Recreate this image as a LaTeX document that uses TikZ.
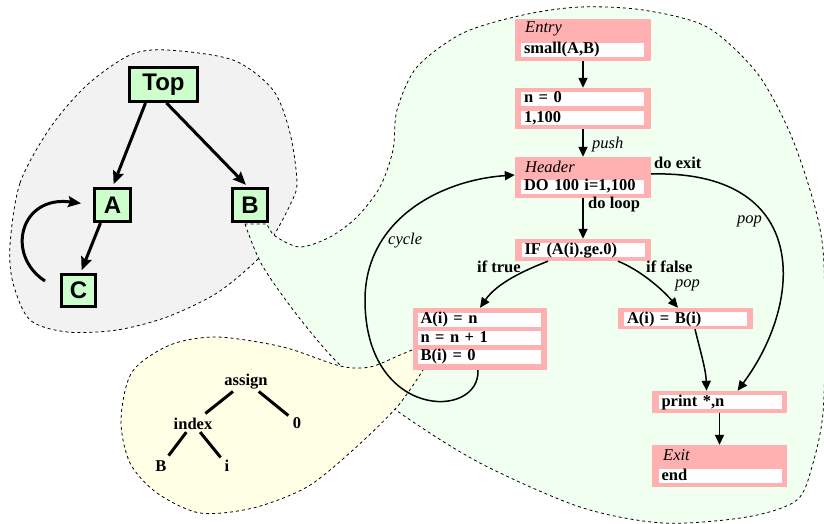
\documentclass[tikz,border=0pt]{standalone}
\usepackage{fontspec}
\setmainfont{Liberation Serif}
\setsansfont{Liberation Sans}
\usetikzlibrary{arrows.meta}

\definecolor{blkpink}{RGB}{255,176,176}
\definecolor{boxgreen}{RGB}{204,255,204}
\definecolor{blobgray}{RGB}{242,242,242}
\definecolor{blobgreen}{RGB}{240,255,240}
\definecolor{blobyellow}{RGB}{255,255,229}

\newcommand{\flowsize}{\fontsize{16.5}{19}\selectfont}
\newcommand{\treesize}{\fontsize{24}{28}\selectfont}

\tikzset{
  blob/.style={draw=black, line width=0.8pt, dash pattern=on 3pt off 3pt},
  blk/.style={fill=blkpink, inner sep=0pt, minimum width=136pt},
  fld/.style={fill=white, inner xsep=3pt, inner ysep=0pt, text width=117pt,
    text height=11pt, text depth=3pt, align=left, font=\bfseries\flowsize},
  ttl/.style={anchor=west, inner sep=0pt, font=\itshape\flowsize},
  blbl/.style={anchor=base west, inner sep=0pt, font=\bfseries\flowsize},
  ilbl/.style={anchor=base west, inner sep=0pt, font=\itshape\flowsize},
  flow/.style={-{Triangle[length=10pt,width=9pt]}, line width=1.5pt},
  tbox/.style={draw=black, line width=3pt, fill=boxgreen, inner sep=0pt,
    font=\sffamily\bfseries\treesize},
  tarr/.style={-{Stealth[length=13pt,width=11pt,inset=2pt]}, line width=3pt},
  ast/.style={anchor=base, inner sep=2pt, font=\bfseries\flowsize},
  aline/.style={line width=3pt, shorten <=1pt, shorten >=3pt}
}

\begin{document}
\begin{tikzpicture}[x=1pt,y=-1pt]
  \useasboundingbox (0,0) rectangle (824,524);

  % blobs
  \filldraw[blob, fill=blobgray] plot[smooth cycle] coordinates {
    (10,245) (20,183) (50,128) (87,85) (130,55) (167,50) (233,60) (273,90)
    (290,133) (297,183) (290,205) (273,237) (257,260) (217,293) (167,317)
    (117,330) (67,332) (30,320) (13,283)};
  \filldraw[blob, fill=blobgreen] plot[smooth] coordinates {
    (245,224) (262,265) (297,315) (340,365) (400,413) (480,463) (580,507)
    (663,523) (747,517) (797,500) (813,463) (823,413) (825,330) (823,250)
    (813,200) (790,133) (757,73) (707,27) (643,10) (580,7) (523,15) (463,33)
    (417,67) (397,110) (393,150) (380,187) (357,217) (330,237) (300,247)
    (275,236) (267,224)} -- cycle;
  \filldraw[blob, fill=blobyellow] plot[smooth] coordinates {
    (412,350) (400,355) (370,367) (340,366) (283,347) (217,337) (170,345)
    (132,372) (121,420) (130,463) (157,493) (200,513) (253,508) (307,487)
    (353,450) (397,407) (423,370)} -- cycle;

  % call graph
  \node[tbox, minimum width=68pt, minimum height=34pt] (top) at (163.5,84.5) {Top};
  \node[tbox, minimum width=36pt, minimum height=33pt] (a) at (112.5,205) {A};
  \node[tbox, minimum width=35pt, minimum height=33pt] (b) at (250,205) {B};
  \node[tbox, minimum width=34pt, minimum height=32pt] (c) at (78.5,290.5) {C};
  \draw[tarr, shorten >=3pt] ([xshift=-18pt]top.south) -- (a.north);
  \draw[tarr, shorten >=3pt] ([xshift=3pt]top.south) -- ([xshift=-2pt]b.north);
  \draw[tarr, shorten >=3pt] ([xshift=-12pt]a.south) -- ([xshift=2pt]c.north);
  \coordinate (cst) at (45,281);
  \draw[tarr, shorten >=12pt] (cst) .. controls (5,255) and (20,195) .. (a.west);

  % flow graph blocks
  \node[blk, minimum height=42pt] (entry) at (583,40) {};
  \node[ttl] (tentry) at (525,29) {Entry};
  \node[fld] (fentry) at (582.5,50) {small(A,B)};

  \node[blk, minimum height=41pt] (init) at (583,108.5) {};
  \node[fld] (finit) at (582.5,99) {n = 0};
  \node[fld] (frange) at (582.5,118.5) {1,100};

  \node[blk, minimum height=41pt] (header) at (583,177.5) {};
  \node[ttl] (theader) at (525,167) {Header};
  \node[fld] (fheader) at (582.5,186.5) {DO 100 i=1,100};

  \node[blk, minimum height=22pt] (ifb) at (583,250) {};
  \node[fld] (fif) at (583,250) {IF (A(i).ge.0)};

  \node[blk, minimum width=134pt, minimum height=62pt] (thenb) at (480,339) {};
  \node[fld] (fthen1) at (479,319.5) {A(i) = n};
  \node[fld] (fthen2) at (479,338) {n = n + 1};
  \node[fld] (fthen3) at (479,356.5) {B(i) = 0};

  \node[blk, minimum width=135pt, minimum height=21pt] (elseb) at (685.5,318.5) {};
  \node[fld] (felse) at (685.5,319) {A(i) = B(i)};

  \node[blk, minimum width=135pt, minimum height=22pt] (printb) at (719.5,402) {};
  \node[fld] (fprint) at (720,402) {print *,n};

  \node[blk, minimum width=135pt, minimum height=42pt] (exitb) at (719.5,466) {};
  \node[ttl] (texit) at (663,455) {Exit};
  \node[fld] (fexit) at (720,476) {end};

  % flow edges
  \draw[flow] (entry) -- (init);
  \draw[flow] (init) -- (header);
  \draw[flow] (header) -- (ifb);
  \draw[flow] (printb) -- (exitb);
  \draw[flow] ([xshift=-35pt]ifb.south) .. controls (525,270) and (497,283) .. (thenb.north);
  \draw[flow] ([xshift=35pt]ifb.south) .. controls (640,270) and (662,289) .. ([xshift=-7.5pt]elseb.north);
  \draw[flow] ([xshift=9.5pt]elseb.south) .. controls (700,350) and (706,370) .. ([xshift=-13pt]printb.north);
  \draw[flow] ([yshift=3.5pt]header.east) .. controls (810,170) and (805,300) .. ([xshift=18pt]printb.north);
  \coordinate (cyc) at (365,300);
  \draw[flow] ([xshift=-2pt]thenb.south) .. controls (480,420) and (365,420) .. (cyc)
    .. controls (365,220) and (440,180) .. ([yshift=2.5pt]header.west);

  % edge labels
  \node[ilbl] (lpush) at (592,149) {push};
  \node[blbl] (lloop) at (588,208) {do loop};
  \node[blbl] (lexit) at (654,168) {do exit};
  \node[ilbl] (lpop1) at (737,223) {pop};
  \node[blbl] (ltrue) at (477,272) {if true};
  \node[blbl] (lfalse) at (646,272) {if false};
  \node[ilbl] (lpop2) at (675,287) {pop};
  \node[ilbl] (lcycle) at (388,244) {cycle};

  % syntax tree
  \node[ast] (asg) at (246,385) {assign};
  \node[ast] (idx) at (193,429) {index};
  \node[ast] (zero) at (297,428) {0};
  \node[ast] (vb) at (161,471) {B};
  \node[ast] (vi) at (227,471) {i};
  \draw[aline] (asg) -- (idx);
  \draw[aline] (asg) -- (zero);
  \draw[aline] (idx) -- (vb);
  \draw[aline] (idx) -- (vi);
\end{tikzpicture}
\end{document}
